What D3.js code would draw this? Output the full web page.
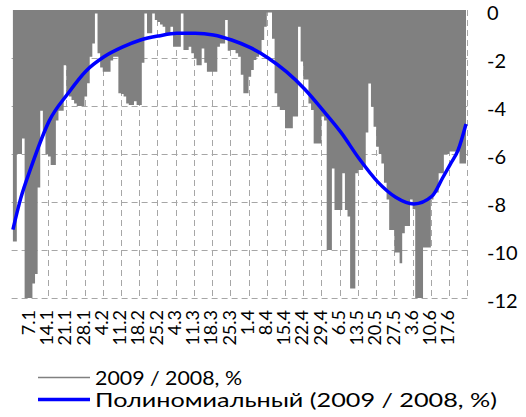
<!DOCTYPE html>
<html>
<head>
<meta charset="utf-8">
<script src="https://cdn.jsdelivr.net/npm/d3@7"></script>
<style>
  body { margin: 0; background: #fff; }
  text { font-family: Lato, "Open Sans", sans-serif; fill: #000; }
</style>
</head>
<body>
<svg id="chart" width="526" height="417"></svg>
<script>
// ----------- DATA -----------
// daily categories, 1 Jan 2009 .. 24 Jun 2009
var days = d3.timeDays(new Date(2009, 0, 1), new Date(2009, 5, 25));
var fmtDay = d3.timeFormat("%-d.%-m");

// 2009 / 2008, % (one value per day)
var values = [
  -9.65, -9.65, -6.0, -6.0, -5.35, -12, -12, -12, -11.4, -11.0,
  -7.4, -4.2, -5.1, -6.0, -6.1, -6.46, -6.46, -4.6, -4.2, -4.2,
  -2.3, -3.5, -3.6, -3.75, -3.9, -4.0, -4.0, -4.0, -3.6, -3.05,
  -1.95, -1.4, -0.15, -1.8, -2.4, -2.57, -2.57, -2.57, -2.1, -1.95,
  -1.95, -3.47, -3.5, -3.6, -3.9, -3.96, -3.96, -3.8, -3.96, -3.96,
  -2.2, -0.15, -0.97, -0.97, -0.15, -0.42, -0.5, -0.6, -0.7, -0.97,
  -0.97, -0.7, -1.53, -1.53, -1.53, -0.15, -1.67, -1.67, -1.53, -1.8,
  -2.0, -2.3, -2.3, -1.6, -2.2, -2.57, -2.57, -2.57, -2.57, -1.53,
  -1.4, -1.4, -0.42, -1.7, -1.67, -1.67, -1.8, -1.95, -2.7, -3.47,
  -3.47, -2.78, -2.5, -2.08, -1.95, -1.8, -1.25, -0.7, -0.1, -0.1,
  -1.2, -3.47, -4.03, -4.17, -4.17, -4.93, -4.93, -4.93, -4.44, -4.44,
  -0.7, -2.15, -2.9, -2.9, -3.9, -4.17, -5.56, -5.56, -5.56, -4.44,
  -4.6, -10.0, -10.0, -6.6, -8.33, -8.33, -8.33, -6.8, -8.33, -8.6,
  -11.6, -11.6, -6.8, -6.67, -6.67, -6.5, -5.1, -3.06, -4.03, -4.86,
  -5.7, -6.0, -6.4, -7.2, -7.9, -9.17, -9.17, -10.1, -10.1, -10.55,
  -9.3, -9.0, -9.0, -7.9, -8.3, -12, -12, -12, -9.9, -9.9,
  -9.9, -7.9, -7.6, -7.6, -6.8, -6.8, -6.0, -6.0, -5.9, -5.9,
  -5.9, -5.9, -6.4, -6.4, -6.4
];

// polynomial trend, read at day index
var trendIdx = [0, 3, 7, 14, 21, 28, 35, 42, 49, 56, 63, 70, 77, 84, 91,
  98, 105, 112, 119, 126, 133, 140, 147, 154, 161, 165, 168, 171, 174];
var trendVal = [-9.15, -7.85, -6.55, -4.61, -3.5, -2.55, -1.95, -1.55, -1.25, -1.08, -0.97, -0.97, -1.04, -1.25, -1.56,
  -2.0, -2.57, -3.29, -4.17, -5.1, -6.2, -7.15, -7.8, -8.08, -7.75, -7.0, -6.42, -5.83, -4.75];

var yTicks = [0, -2, -4, -6, -8, -10, -12];
// label every 7th day: 7.1 ... 17.6
var labelIdx = d3.range(6, 168, 7);
var legendLabels = ["2009 / 2008, %", "Полиномиальный (2009 / 2008, %)"];

// ----------- CHART -----------
var svg = d3.select("#chart");
var plotL = 11.6, plotR = 467.3, plotT = 10, plotB = 298;

var x = d3.scaleBand()
  .domain(d3.range(days.length))
  .range([plotL, plotR])
  .padding(0);
var bw = x.bandwidth();
var cx = function(i) { return x(i) + bw / 2; };

var y = d3.scaleLinear()
  .domain([-12, 0])
  .range([plotB, plotT]);

// gridlines
var grid = svg.append("g")
  .attr("stroke", "#a6a6a6")
  .attr("stroke-width", 1)
  .attr("stroke-dasharray", "6,4");

grid.selectAll("line.h")
  .data(yTicks.filter(function(t) { return t !== 0; }))
  .enter().append("line")
  .attr("class", "h")
  .attr("x1", plotL).attr("x2", plotR)
  .attr("y1", function(d) { return Math.round(y(d)) + 0.5; })
  .attr("y2", function(d) { return Math.round(y(d)) + 0.5; });

grid.selectAll("line.v")
  .data(d3.range(7, days.length + 1, 7))
  .enter().append("line")
  .attr("class", "v")
  .attr("x1", function(k) { return Math.round(plotL + k * x.step()) + 0.5; })
  .attr("x2", function(k) { return Math.round(plotL + k * x.step()) + 0.5; })
  .attr("y1", plotT).attr("y2", plotB);

// gray series (dense drop lines from 0 -> stepped area)
svg.append("path")
  .datum(values)
  .attr("fill", "#808080")
  .attr("d", d3.area()
    .x(function(d, i) { return cx(i); })
    .y0(y(0))
    .y1(function(d) { return y(d); })
    .curve(d3.curveStep));

// trend line
var trend = trendIdx.map(function(d, i) { return { i: d, v: trendVal[i] }; });
svg.append("path")
  .datum(trend)
  .attr("fill", "none")
  .attr("stroke", "#0000ff")
  .attr("stroke-width", 3.5)
  .attr("stroke-linejoin", "round")
  .attr("d", d3.line()
    .x(function(d) { return cx(d.i); })
    .y(function(d) { return y(d.v); })
    .curve(d3.curveMonotoneX));

// y axis labels (right side)
svg.append("g")
  .selectAll("text")
  .data(yTicks)
  .enter().append("text")
  .attr("x", 487)
  .attr("y", function(d) { return y(d); })
  .attr("dy", "0.5em")
  .attr("font-size", 20)
  .text(function(d) { return d === 0 ? "0" : "-" + Math.abs(d); });

// x axis labels, every 7th day
svg.append("g")
  .selectAll("text")
  .data(labelIdx)
  .enter().append("text")
  .attr("transform", function(i) {
    return "translate(" + cx(i) + "," + 310 + ") rotate(-90)";
  })
  .attr("text-anchor", "end")
  .attr("dy", "0.36em")
  .attr("font-size", 18)
  .text(function(i) { return fmtDay(days[i]); });

// legend
var legend = svg.append("g");
legend.append("line")
  .attr("x1", 38).attr("x2", 90)
  .attr("y1", 377.5).attr("y2", 377.5)
  .attr("stroke", "#808080").attr("stroke-width", 1.5);
legend.append("line")
  .attr("x1", 38).attr("x2", 90)
  .attr("y1", 399.5).attr("y2", 399.5)
  .attr("stroke", "#0000ff").attr("stroke-width", 3.5);
legend.append("text")
  .attr("x", 95).attr("y", 385)
  .attr("font-size", 20)
  .attr("textLength", 147)
  .attr("lengthAdjust", "spacingAndGlyphs")
  .text(legendLabels[0]);
legend.append("text")
  .attr("x", 95).attr("y", 407)
  .attr("font-size", 20)
  .attr("textLength", 402)
  .attr("lengthAdjust", "spacingAndGlyphs")
  .text(legendLabels[1]);
</script>
</body>
</html>
